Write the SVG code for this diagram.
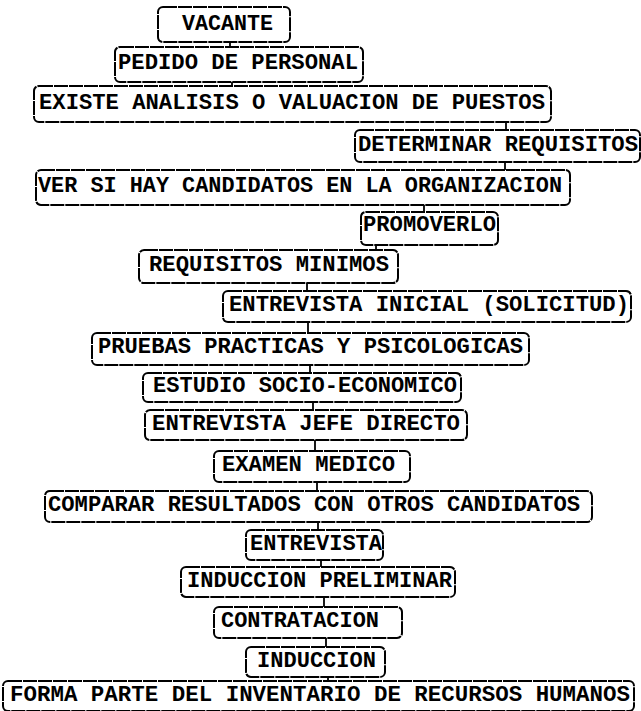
<svg xmlns="http://www.w3.org/2000/svg" width="641" height="711" viewBox="0 0 641 711">
<style>
.b{fill:#fff;stroke:#000;stroke-width:2;stroke-dasharray:14 1;}
.t{font-family:"Liberation Mono","DejaVu Sans Mono",monospace;font-size:22px;font-weight:bold;fill:#000;}
.c{stroke:#000;stroke-width:1.8;fill:none;}
</style>
<rect width="641" height="711" fill="#fff"/>
<g id="connectors">
<line class="c" x1="230" y1="42" x2="230" y2="47"/>
<line class="c" x1="232" y1="82" x2="232" y2="86"/>
<line class="c" x1="506" y1="122" x2="506" y2="130"/>
<line class="c" x1="505" y1="162" x2="505" y2="170"/>
<line class="c" x1="424" y1="205" x2="424" y2="212"/>
<line class="c" x1="376" y1="245" x2="376" y2="250"/>
<line class="c" x1="307" y1="283" x2="307" y2="291"/>
<line class="c" x1="308" y1="322" x2="308" y2="333"/>
<line class="c" x1="310" y1="365" x2="310" y2="373"/>
<line class="c" x1="313" y1="402" x2="313" y2="410"/>
<line class="c" x1="315" y1="440" x2="315" y2="451"/>
<line class="c" x1="317" y1="482" x2="317" y2="491"/>
<line class="c" x1="318" y1="522" x2="318" y2="530"/>
<line class="c" x1="321" y1="560" x2="321" y2="567"/>
<line class="c" x1="324" y1="597" x2="324" y2="607"/>
<line class="c" x1="326" y1="638" x2="326" y2="647"/>
<line class="c" x1="328" y1="677" x2="328" y2="681"/>
</g>
<g id="n1"><rect class="b" x="158" y="7" width="132" height="35" rx="5"/><text class="t" x="182" y="30" textLength="91" lengthAdjust="spacingAndGlyphs">VACANTE</text></g>
<g id="n2"><rect class="b" x="115" y="47" width="248" height="35" rx="5"/><text class="t" x="118" y="69" textLength="240" lengthAdjust="spacingAndGlyphs">PEDIDO DE PERSONAL</text></g>
<g id="n3"><rect class="b" x="34" y="86" width="517" height="36" rx="5"/><text class="t" x="39" y="109" textLength="506" lengthAdjust="spacingAndGlyphs">EXISTE ANALISIS O VALUACION DE PUESTOS</text></g>
<g id="n4"><rect class="b" x="355" y="130" width="285" height="32" rx="5"/><text class="t" x="358" y="151" textLength="280" lengthAdjust="spacingAndGlyphs">DETERMINAR REQUISITOS</text></g>
<g id="n5"><rect class="b" x="36" y="170" width="534" height="35" rx="5"/><text class="t" x="38" y="192" textLength="524" lengthAdjust="spacingAndGlyphs">VER SI HAY CANDIDATOS EN LA ORGANIZACION</text></g>
<g id="n6"><rect class="b" x="361" y="212" width="137" height="33" rx="5"/><text class="t" x="363" y="231" textLength="133" lengthAdjust="spacingAndGlyphs">PROMOVERLO</text></g>
<g id="n7"><rect class="b" x="139" y="250" width="259" height="33" rx="5"/><text class="t" x="149" y="271" textLength="240" lengthAdjust="spacingAndGlyphs">REQUISITOS MINIMOS</text></g>
<g id="n8"><rect class="b" x="223" y="291" width="408" height="31" rx="5"/><text class="t" x="229" y="311" textLength="400" lengthAdjust="spacingAndGlyphs">ENTREVISTA INICIAL (SOLICITUD)</text></g>
<g id="n9"><rect class="b" x="92" y="333" width="437" height="32" rx="5"/><text class="t" x="98" y="353" textLength="425" lengthAdjust="spacingAndGlyphs">PRUEBAS PRACTICAS Y PSICOLOGICAS</text></g>
<g id="n10"><rect class="b" x="143" y="373" width="318" height="29" rx="5"/><text class="t" x="153" y="392" textLength="304" lengthAdjust="spacingAndGlyphs">ESTUDIO SOCIO-ECONOMICO</text></g>
<g id="n11"><rect class="b" x="145" y="410" width="322" height="30" rx="5"/><text class="t" x="152" y="430" textLength="308" lengthAdjust="spacingAndGlyphs">ENTREVISTA JEFE DIRECTO</text></g>
<g id="n12"><rect class="b" x="214" y="451" width="196" height="31" rx="5"/><text class="t" x="222" y="471" textLength="173" lengthAdjust="spacingAndGlyphs">EXAMEN MEDICO</text></g>
<g id="n13"><rect class="b" x="45" y="491" width="547" height="31" rx="5"/><text class="t" x="48" y="511" textLength="532" lengthAdjust="spacingAndGlyphs">COMPARAR RESULTADOS CON OTROS CANDIDATOS</text></g>
<g id="n14"><rect class="b" x="246" y="530" width="137" height="30" rx="5"/><text class="t" x="250" y="550" textLength="132" lengthAdjust="spacingAndGlyphs">ENTREVISTA</text></g>
<g id="n15"><rect class="b" x="181" y="567" width="274" height="30" rx="5"/><text class="t" x="187" y="587" textLength="265" lengthAdjust="spacingAndGlyphs">INDUCCION PRELIMINAR</text></g>
<g id="n16"><rect class="b" x="214" y="607" width="188" height="31" rx="5"/><text class="t" x="221" y="627" textLength="158" lengthAdjust="spacingAndGlyphs">CONTRATACION</text></g>
<g id="n17"><rect class="b" x="246" y="647" width="139" height="30" rx="5"/><text class="t" x="257" y="667" textLength="119" lengthAdjust="spacingAndGlyphs">INDUCCION</text></g>
<g id="n18"><rect class="b" x="3" y="681" width="631" height="30" rx="5"/><text class="t" x="10" y="701" textLength="620" lengthAdjust="spacingAndGlyphs">FORMA PARTE DEL INVENTARIO DE RECURSOS HUMANOS</text></g>
</svg>
